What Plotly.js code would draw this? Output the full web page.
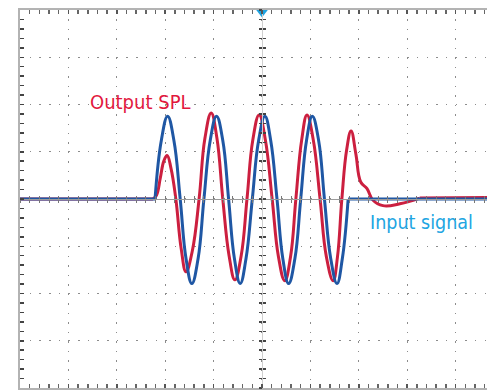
<!DOCTYPE html>
<html>
<head>
<meta charset="utf-8">
<script src="https://cdn.plot.ly/plotly-3.0.1.min.js"></script>
<style>html,body{margin:0;padding:0;background:#fff;}#chart{width:487px;height:390px;}</style>
</head>
<body>
<div id="chart"></div>
<script>
// time axis in scope divisions, amplitude in vertical divisions
const inputT = [0, 2.79, 2.92, 3.05, 3.18, 3.31, 3.43, 3.55, 3.68, 3.80, 3.93, 4.06, 4.19, 4.31, 4.43, 4.55, 4.67, 4.80, 4.93, 5.06, 5.18, 5.31, 5.43, 5.55, 5.68, 5.80, 5.92, 6.04, 6.17, 6.29, 6.42, 6.55, 6.66, 6.78, 9.65];
const inputV = [0, 0, 1.24, 1.75, 1.24, 0, -1.26, -1.79, -1.26, 0, 1.24, 1.75, 1.24, 0, -1.26, -1.79, -1.26, 0, 1.24, 1.75, 1.24, 0, -1.26, -1.79, -1.26, 0, 1.24, 1.75, 1.24, 0, -1.26, -1.79, -1.26, 0, 0];
const outputT = [0, 2.75, 2.82, 2.90, 2.97, 3.04, 3.12, 3.22, 3.33, 3.43, 3.56, 3.70, 3.82, 3.95, 4.07, 4.19, 4.32, 4.44, 4.57, 4.69, 4.81, 4.94, 5.07, 5.21, 5.34, 5.47, 5.59, 5.70, 5.82, 5.93, 6.06, 6.20, 6.33, 6.47, 6.56, 6.65, 6.75, 6.84, 6.94, 7.04, 7.17, 7.29, 7.50, 7.85, 8.26, 9.65];
const outputV = [0, 0, 0.08, 0.45, 0.80, 0.92, 0.65, 0, -1.05, -1.54, -1.10, 0, 1.28, 1.82, 1.28, 0, -1.20, -1.71, -1.20, 0, 1.25, 1.78, 1.25, 0, -1.22, -1.73, -1.22, 0, 1.25, 1.78, 1.25, 0, -1.22, -1.73, -1.22, 0, 1.05, 1.44, 0.95, 0.36, 0.22, -0.02, -0.14, -0.10, 0.02, 0.03];
const triggerT = [5];
const triggerV = [3.96];
const labels = ["Output SPL", "Input signal"];

const X_MAX = 9.649;
const gridCol = '#8c8c8c';
const dummy = (xa, ya) => ({x: [null], y: [null], xaxis: xa, yaxis: ya, mode: 'lines', showlegend: false, hoverinfo: 'skip'});

// each record: flat lead-in (linear), oscillating burst (spline), flat tail (linear)
function seriesTraces(t, v, name, color) {
  const n = t.length;
  const base = {mode: 'lines', name: name, showlegend: false, hoverinfo: 'skip'};
  return [
    Object.assign({}, base, {x: t.slice(0, 2), y: v.slice(0, 2), line: {color: color, width: 3}}),
    Object.assign({}, base, {x: t.slice(1, n - 1), y: v.slice(1, n - 1), line: {color: color, width: 3, shape: 'spline', smoothing: 1.2}}),
    Object.assign({}, base, {x: t.slice(n - 2), y: v.slice(n - 2), line: {color: color, width: 3}})
  ];
}

const traces = [
  dummy('x2', 'y'), dummy('x3', 'y'), dummy('x', 'y2'), dummy('x', 'y3'),
  ...seriesTraces(outputT, outputV, labels[0], '#cc1f3f'),
  ...seriesTraces(inputT, inputV, labels[1], '#1f57a4'),
  {x: triggerT, y: triggerV, mode: 'markers', marker: {symbol: 'triangle-down', size: 11, color: '#1fa3e0'}, cliponaxis: false, hoverinfo: 'skip'}
];

const centerAxisX = (ticks) => ({overlaying: 'x', anchor: 'free', position: 0.5, range: [0, X_MAX], showgrid: false, zeroline: false, showticklabels: false, showline: true, linecolor: '#9a9a9a', linewidth: 1, ticks: ticks, ticklen: 3, tickwidth: 1, tickcolor: '#777', dtick: 0.2, tick0: 0});
const centerAxisY = (ticks) => ({overlaying: 'y', anchor: 'free', position: 5 / X_MAX, range: [-4, 4], showgrid: false, zeroline: false, showticklabels: false, showline: true, linecolor: '#cfcfcf', linewidth: 1, ticks: ticks, ticklen: 3, tickwidth: 1.5, tickcolor: '#444', dtick: 0.2, tick0: 0});

const layout = {
  width: 487, height: 390,
  margin: {l: 20, r: 0, t: 10, b: 2},
  paper_bgcolor: '#ffffff', plot_bgcolor: '#ffffff',
  showlegend: false,
  xaxis: {range: [0, X_MAX], dtick: 1, tick0: 0, showgrid: true, gridcolor: gridCol, gridwidth: 1.3, griddash: '1.5px,7.96px', zeroline: false, showticklabels: false,
          showline: true, linecolor: '#b3b3b3', linewidth: 2, mirror: 'allticks', ticks: 'inside', ticklen: 4, tickwidth: 1.5, tickcolor: '#555',
          minor: {dtick: 0.2, tick0: 0, ticks: 'inside', ticklen: 3, tickwidth: 1.5, tickcolor: '#666', showgrid: false}},
  yaxis: {range: [-4, 4], dtick: 1, tick0: 0, showgrid: true, gridcolor: gridCol, gridwidth: 1.3, griddash: '1.5px,8.18px', zeroline: false, showticklabels: false,
          showline: true, linecolor: '#b3b3b3', linewidth: 2, mirror: false, ticks: 'inside', ticklen: 4, tickwidth: 1.5, tickcolor: '#444',
          minor: {dtick: 0.2, tick0: 0, ticks: 'inside', ticklen: 4, tickwidth: 1.5, tickcolor: '#444', showgrid: false}},
  xaxis2: centerAxisX('outside'),
  xaxis3: centerAxisX('inside'),
  yaxis2: centerAxisY('outside'),
  yaxis3: centerAxisY('inside'),
  annotations: [
    {x: 2.48, y: 2.05, xref: 'x', yref: 'y', text: labels[0], showarrow: false, font: {family: 'Liberation Sans Narrow, DejaVu Sans Condensed, sans-serif', size: 20, color: '#e2173d'}},
    {x: 8.30, y: -0.50, xref: 'x', yref: 'y', text: labels[1], showarrow: false, font: {family: 'Liberation Sans Narrow, DejaVu Sans Condensed, sans-serif', size: 19.5, color: '#21a5e2'}}
  ]
};

Plotly.newPlot('chart', traces, layout, {staticPlot: true, displayModeBar: false});
</script>
</body>
</html>
